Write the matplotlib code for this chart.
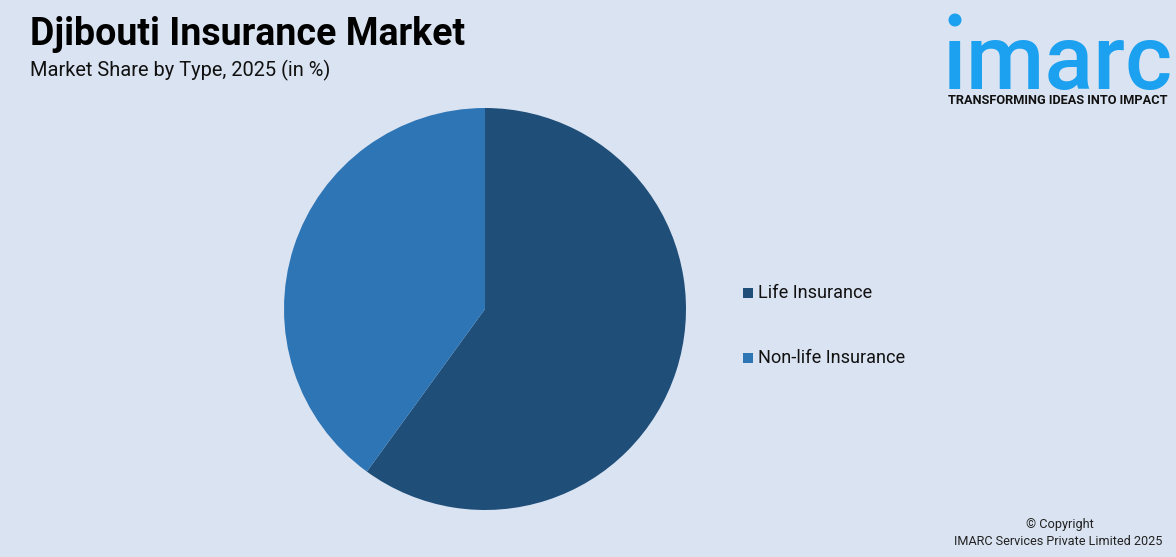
import matplotlib.pyplot as plt
from matplotlib.patches import Rectangle, Ellipse

# data
labels = ["Life Insurance", "Non-life Insurance"]
shares = [60, 40]
colors = ["#1f4e79", "#2e75b6"]

title = "Djibouti Insurance Market"
subtitle = "Market Share by Type, 2025 (in %)"

bg = "#dae3f1"
logo_blue = "#1ba1f0"
plt.rcParams['font.family'] = ['Roboto', 'DejaVu Sans']

W, H = 1176, 557
fig = plt.figure(figsize=(W / 100, H / 100), dpi=100)
fig.patch.set_facecolor(bg)

# pie, centre (485, 309) px, radius 201 px
ax = fig.add_axes([(485 - 201) / W, (H - 510) / H, 402 / W, 402 / H])
ax.pie(shares, colors=colors, startangle=90, counterclock=False,
       wedgeprops=dict(linewidth=0))
ax.set_xlim(-1, 1)
ax.set_ylim(-1, 1)
ax.set_aspect("equal")
ax.axis("off")

# legend
for i, (lab, col) in enumerate(zip(labels, colors)):
    y = 1 - (293 + i * 65) / H
    fig.patches.append(Rectangle((743 / W, y - 5 / H), 10 / W, 10 / H,
                                 transform=fig.transFigure, facecolor=col, edgecolor="none"))
    fig.text(758 / W, y, lab, fontsize=13.1, va="center", ha="left", color="#111111")

# titles
fig.text(30 / W, 1 - 45 / H, title, fontsize=27, fontweight="bold", ha="left", va="baseline")
fig.text(30 / W, 1 - 76 / H, subtitle, fontsize=14.4, ha="left", va="baseline", color="#111111")

# logo
fig.text(1058 / W, 1 - 89 / H, "ımarc", fontsize=65, fontweight="medium", color=logo_blue,
         ha="center", va="baseline")
fig.patches.append(Ellipse((955 / W, 1 - 20 / H), 13 / W, 13 / H, transform=fig.transFigure,
                           facecolor=logo_blue, edgecolor="none"))
fig.text(1058 / W, 1 - 104 / H, "TRANSFORMING IDEAS INTO IMPACT", fontsize=9.2,
         fontweight="bold", color="#111111", ha="center", va="baseline")

# copyright
fig.text(1060 / W, 1 - 528 / H, "© Copyright", fontsize=9.2, ha="center", va="baseline", color="#222222")
fig.text(1162 / W, 1 - 545 / H, "IMARC Services Private Limited 2025", fontsize=9.1,
         ha="right", va="baseline", color="#222222")

fig.savefig("out.png", dpi=100, facecolor=bg)
